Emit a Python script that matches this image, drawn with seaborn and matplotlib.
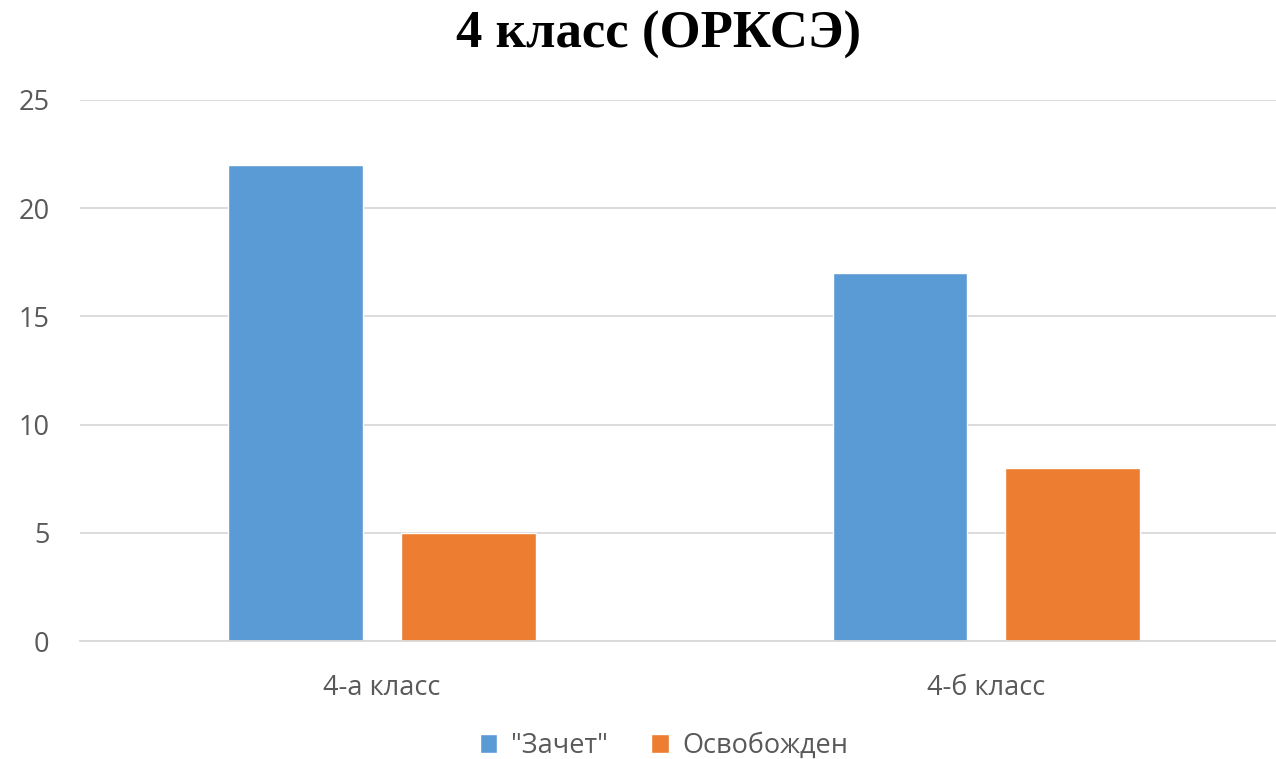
import numpy as np
import pandas as pd
import matplotlib
matplotlib.use("Agg")
import matplotlib.pyplot as plt
import seaborn as sns

categories = ["4-а класс", "4-б класс"]
series_names = ['"Зачет"', "Освобожден"]
zachet = [22, 17]
osvobozhden = [5, 8]
colors = ["#5B9BD5", "#ED7D31"]

df = pd.DataFrame({
    "klass": categories * 2,
    "value": zachet + osvobozhden,
    "series": [series_names[0]] * 2 + [series_names[1]] * 2,
})

sns.set_style("white")
plt.rcParams['font.family'] = ['Open Sans', 'DejaVu Sans']
text_color = "#595959"

fig = plt.figure(figsize=(12.76, 7.59), dpi=100)
ax = fig.add_axes([80 / 1276, (759 - 641) / 759, 1 - 80 / 1276, (641 - 100) / 759])

sns.barplot(data=df, x="klass", y="value", hue="series", palette=colors,
            width=0.57, gap=0.216, ax=ax, saturation=1)

ax.set_ylim(0, 25)
ax.set_xlim(-0.5, 1.48)
ax.set_yticks(range(0, 26, 5))
ax.yaxis.grid(True, color="#D9D9D9", linewidth=1.3)
ax.set_axisbelow(True)
for s in ["top", "right", "left"]:
    ax.spines[s].set_visible(False)
ax.spines["bottom"].set_color("#D9D9D9")
ax.spines["bottom"].set_linewidth(1.3)
ax.tick_params(axis="both", length=0, labelsize=19.5, colors=text_color)
ax.tick_params(axis="y", pad=22)
ax.tick_params(axis="x", pad=24)
ax.set_xlabel("")
ax.set_ylabel("")

fig.suptitle("4 класс (ОРКСЭ)", x=0.516, y=0.985, fontsize=38, fontweight="bold",
             family=["Liberation Serif", "DejaVu Serif"], color="black")

handles, labels = ax.get_legend_handles_labels()
ax.legend(handles, labels, loc="center", bbox_to_anchor=(664 / 1276, 13 / 759),
          bbox_transform=fig.transFigure, ncol=2, frameon=False, fontsize=19.5,
          labelcolor=text_color, handlelength=0.65, handleheight=0.65,
          handletextpad=0.5, columnspacing=1.6)

fig.savefig("out.png", dpi=100)
